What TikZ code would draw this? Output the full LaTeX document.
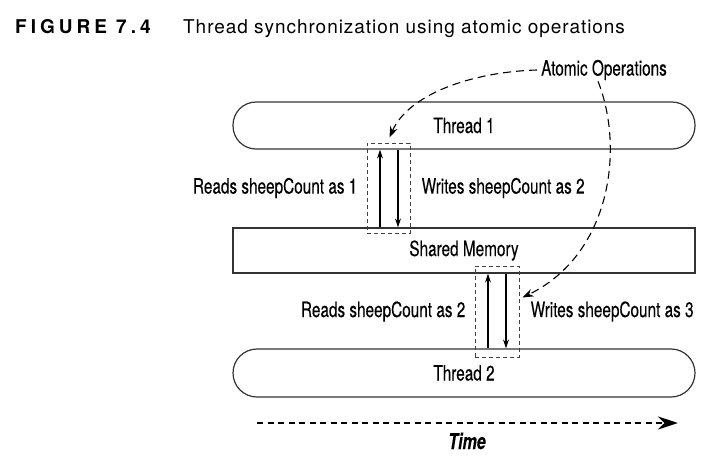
\documentclass[tikz,border=0pt]{standalone}
\usepackage{fontspec}
\setmainfont{TeX Gyre Heros}
\newfontfamily\condfont{TeX Gyre Heros}[FakeStretch=0.73, FakeBold=0.2]
\usetikzlibrary{positioning, arrows.meta}
\newcommand\lblfont{\condfont\fontsize{21}{23}\selectfont}

\begin{document}
\begin{tikzpicture}[x=1pt, y=-1pt,
   capsule/.style={draw=black!80, line width=1.2pt, rounded corners=23pt,
      minimum width=462pt, minimum height=47pt, inner sep=0pt, font=\lblfont},
   membox/.style={draw=black!80, line width=1.2pt,
      minimum width=462pt, minimum height=45pt, inner sep=0pt, font=\lblfont},
   atombox/.style={draw=black!75, line width=1pt, dash pattern=on 4pt off 3pt, inner sep=0pt},
   flow/.style={line width=1.2pt, -{Stealth[length=9pt,width=6pt]}},
   hint/.style={line width=1.1pt, dash pattern=on 8pt off 5pt, -{Stealth[length=11pt,width=8pt]}},
   timeline/.style={line width=2.4pt, dash pattern=on 6pt off 4.5pt, -{Stealth[length=20pt,width=13pt]}},
   lbl/.style={font=\lblfont, inner sep=1pt}]
\useasboundingbox (0,0) rectangle (727,461);

% caption
\node[anchor=base west, inner sep=0pt,
   font=\fontsize{19}{19}\selectfont\bfseries\addfontfeatures{LetterSpace=21}] (fig) at (15,33) {FIGURE 7.4};
\node[anchor=base west, inner sep=0pt,
   font=\fontsize{19}{19}\selectfont\addfontfeatures{LetterSpace=5}] (caption) at (183,33) {Thread synchronization using atomic operations};

% threads and memory
\node[capsule] (thread1) at (464,125.5) {Thread 1};
\node[membox] (memory) at (464,250.5) {Shared Memory};
\node[capsule, minimum height=48pt, rounded corners=24pt] (thread2) at (464,373) {Thread 2};

% atomic read/write pairs
\node[atombox, minimum width=43pt, minimum height=90pt] (atom1) at (388.5,188) {};
\node[atombox, minimum width=44pt, minimum height=91pt] (atom2) at (497,311.5) {};

\draw[flow] ([xshift=-84pt]memory.north) -- ([xshift=-84pt]thread1.south);
\draw[flow] ([xshift=-66pt]thread1.south) -- ([xshift=-66pt]memory.north);
\draw[flow] ([xshift=24pt]thread2.north) -- ([xshift=24pt]memory.south);
\draw[flow] ([xshift=42pt]memory.south) -- ([xshift=42pt]thread2.north);

\node[lbl, left=8pt of atom1] (read1) {Reads sheepCount as 1};
\node[lbl, right=10pt of atom1] (write1) {Writes sheepCount as 2};
\node[lbl, left=8pt of atom2] (read2) {Reads sheepCount as 2};
\node[lbl, right=10pt of atom2] (write2) {Writes sheepCount as 3};

% callout
\node[lbl, anchor=west] (ops) at (540,70) {Atomic Operations};
\draw[hint] ([xshift=-3pt]ops.west) .. controls (470,72) and (408,95) .. ([xshift=1pt,yshift=5pt]atom1.north);
\draw[hint] ([xshift=-6pt]ops.south) .. controls (625,150) and (610,255) .. ([xshift=3pt,yshift=14pt]atom2.east);

% time axis
\coordinate (tstart) at (257,423);
\coordinate (tend) at (678,423);
\draw[timeline] (tstart) -- (tend);
\node[font=\condfont\fontsize{22}{23}\selectfont\bfseries\itshape] (time) at (467,441) {Time};
\end{tikzpicture}
\end{document}
